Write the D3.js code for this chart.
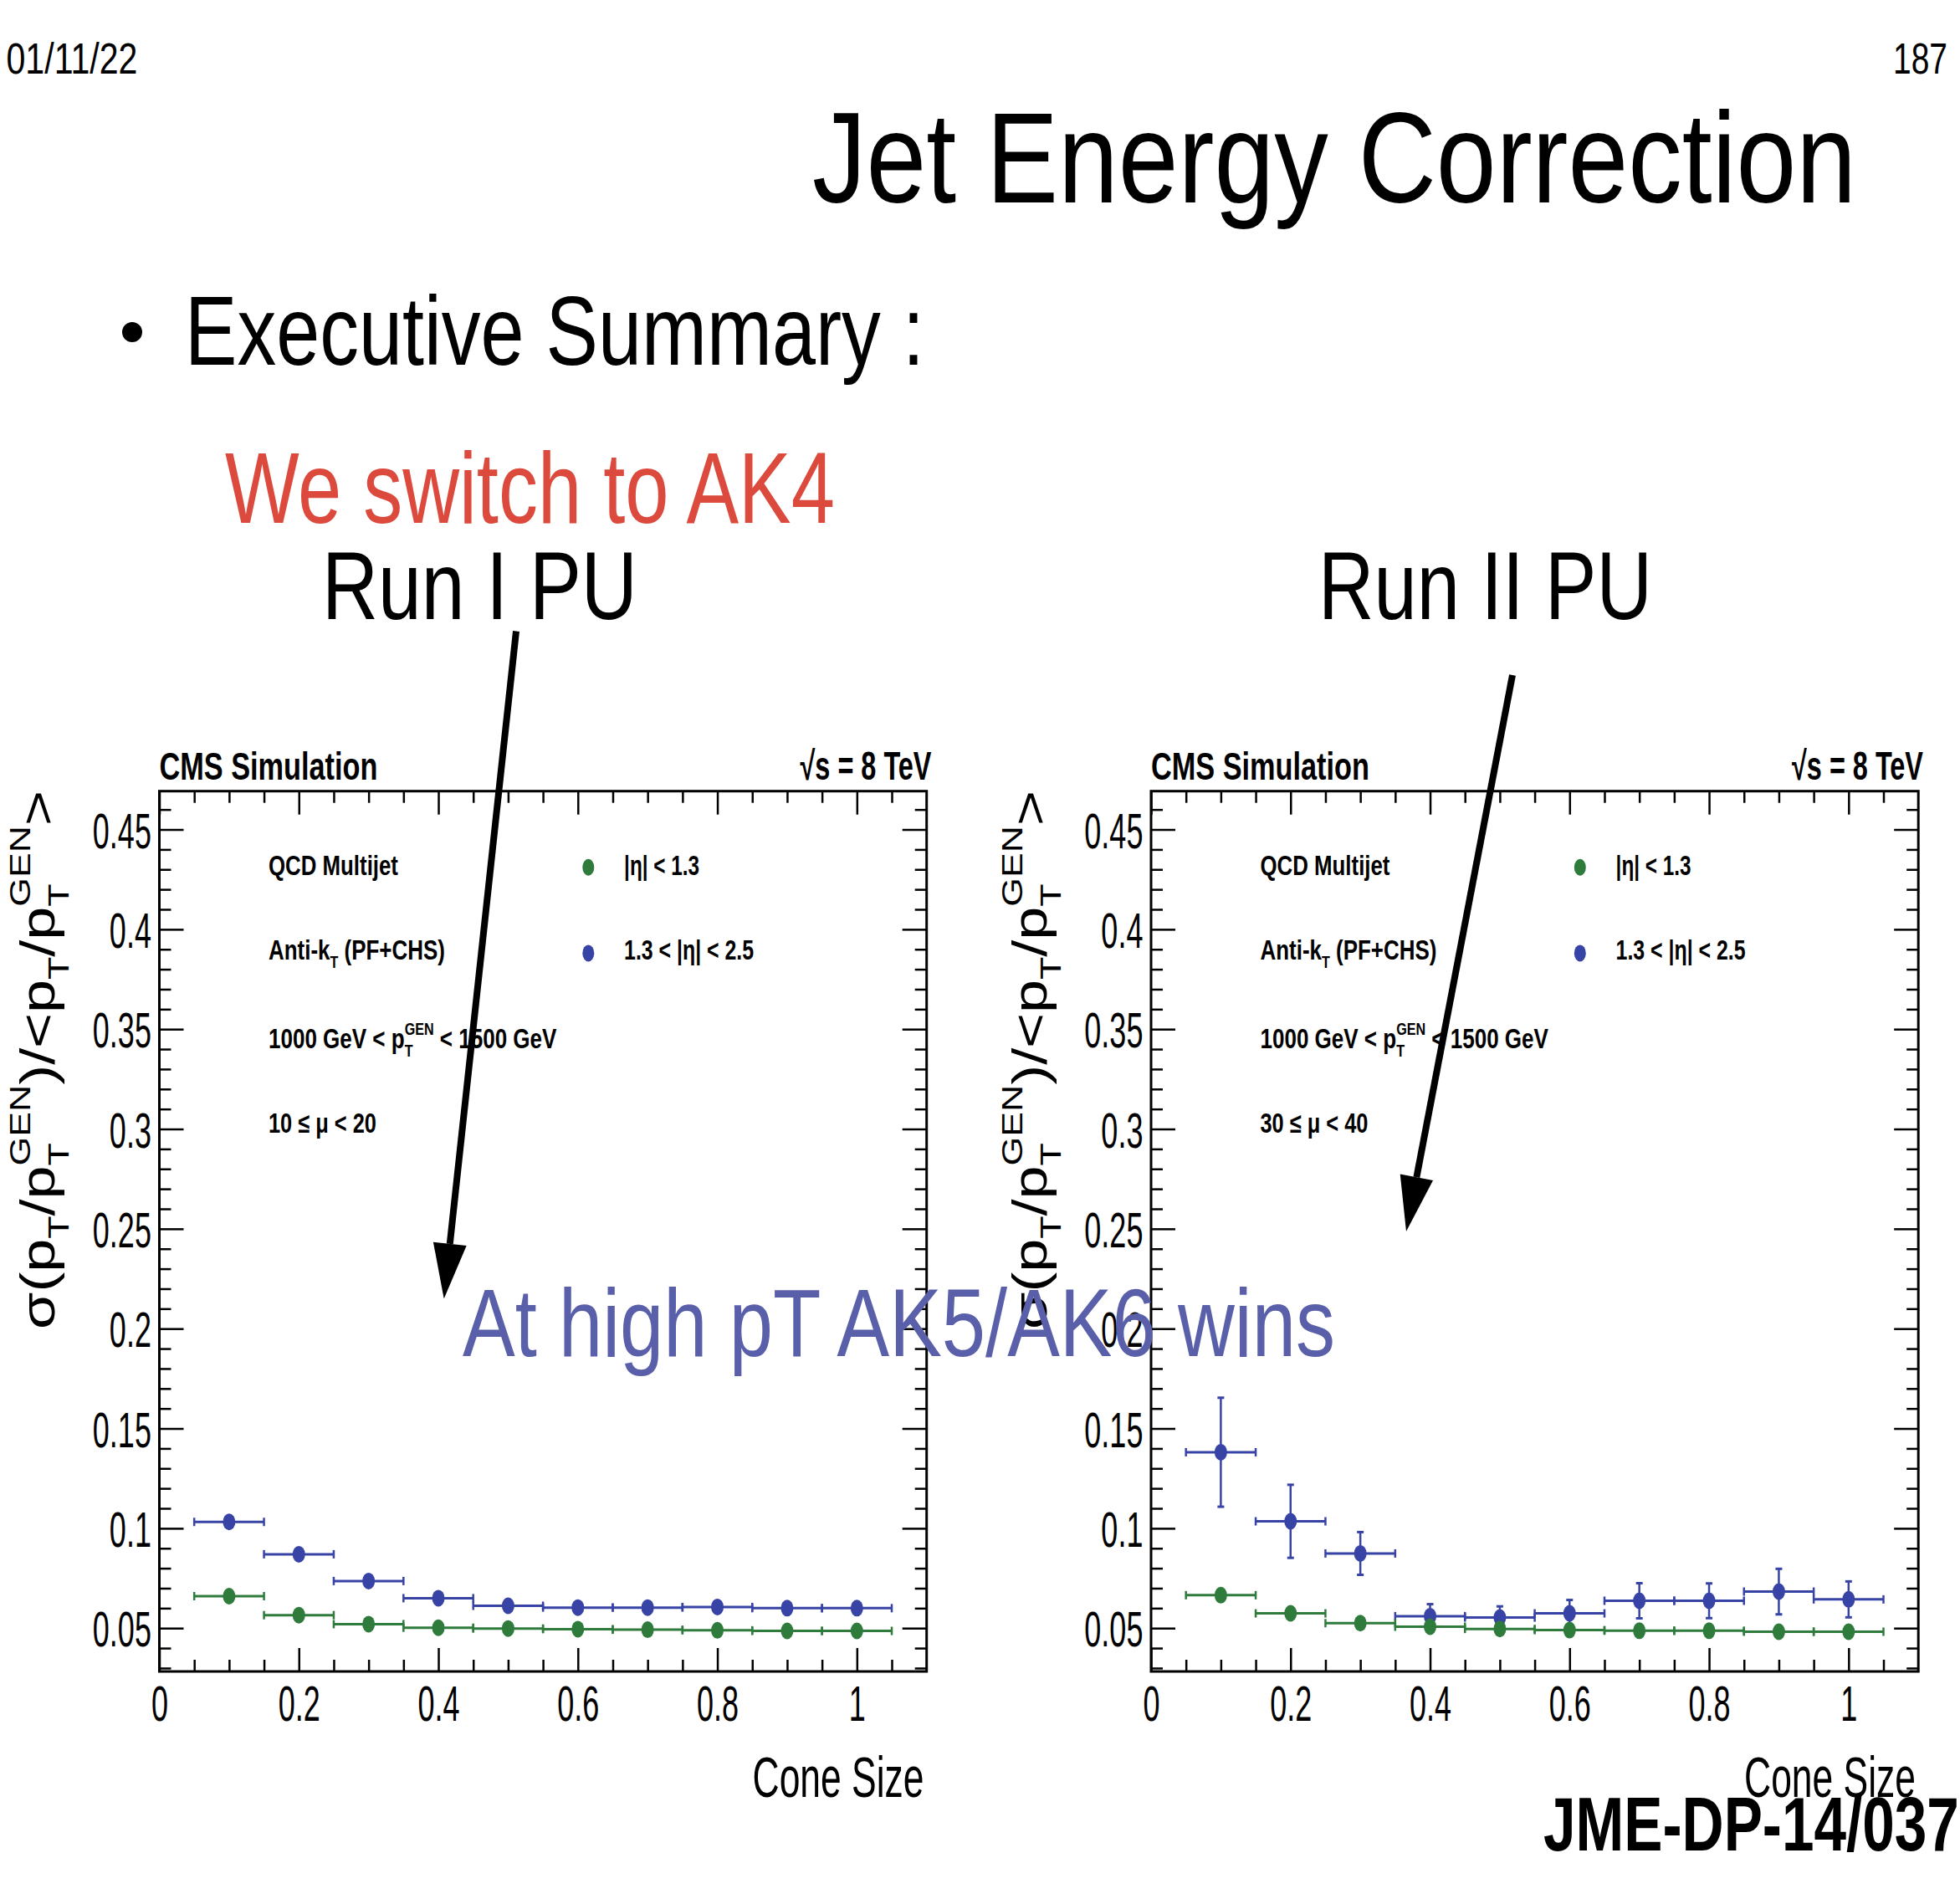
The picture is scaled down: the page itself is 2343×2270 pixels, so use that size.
<!DOCTYPE html>
<html>
<head>
<meta charset="utf-8">
<script src="https://cdn.jsdelivr.net/npm/d3@7"></script>
<style>
  body { margin: 0; background: #fff; }
  text { font-family: "Liberation Sans", Arial, Helvetica, sans-serif; }
</style>
</head>
<body>
<div id="slide"></div>
<script>
// ---- data ----
const coneSize = [0.1, 0.2, 0.3, 0.4, 0.5, 0.6, 0.7, 0.8, 0.9, 1.0]
const binHalfWidth = 0.05

// Run I PU (10 <= mu < 20)
const runI_central    = [0.0660, 0.0565, 0.0520, 0.0502, 0.0498, 0.0495, 0.0492, 0.0489, 0.0486, 0.0486]
const runI_centralErr = [0.0005, 0.0004, 0.0003, 0.0003, 0.0003, 0.0003, 0.0003, 0.0003, 0.0003, 0.0003]
const runI_forward    = [0.1032, 0.0870, 0.0736, 0.0650, 0.0612, 0.0603, 0.0603, 0.0606, 0.0600, 0.0600]
const runI_forwardErr = [0.0010, 0.0008, 0.0006, 0.0005, 0.0005, 0.0005, 0.0005, 0.0005, 0.0005, 0.0005]

// Run II PU (30 <= mu < 40)
const runII_central    = [0.0665, 0.0574, 0.0525, 0.0507, 0.0496, 0.0490, 0.0487, 0.0487, 0.0482, 0.0482]
const runII_centralErr = [0.0010, 0.0008, 0.0006, 0.0005, 0.0005, 0.0005, 0.0005, 0.0005, 0.0005, 0.0005]
const runII_forward    = [0.1381, 0.1035, 0.0874, 0.0560, 0.0553, 0.0574, 0.0637, 0.0637, 0.0683, 0.0644]
const runII_forwardErr = [0.0273, 0.0183, 0.0107, 0.0060, 0.0056, 0.0067, 0.0088, 0.0087, 0.0114, 0.0090]

const xTicks = [0, 0.2, 0.4, 0.6, 0.8, 1]
const xTickLabels = ['0', '0.2', '0.4', '0.6', '0.8', '1']
const yTicks = [0.05, 0.1, 0.15, 0.2, 0.25, 0.3, 0.35, 0.4, 0.45]
const yTickLabels = ['0.05', '0.1', '0.15', '0.2', '0.25', '0.3', '0.35', '0.4', '0.45']

const legendLabels = ['|η| < 1.3', '1.3 < |η| < 2.5']
const green = '#2e7b3c'
const blue = '#3843a6'

const W = 2343, H = 2270

let svg = d3.select('#slide').append('svg')
  .attr('width', W)
  .attr('height', H)
  .style('display', 'block')

svg.append('rect').attr('width', W).attr('height', H).attr('fill', '#fff')

// text with optional sub/superscripts, squeezed to a given width
// parts: [[string, kind]] kind '' | 'sub' | 'sup' (sup stacks over the previous sub)
function rich(parent, parts, o) {
  let size = o.size
  let t = parent.append('text')
    .attr('font-size', size)
    .attr('font-weight', o.bold ? 'bold' : null)
    .attr('fill', o.color || '#000')
    .attr('text-anchor', o.anchor || 'start')
  let shift = 0, lastSub = 0
  parts.forEach(p => {
    let s = p[0], kind = p[1] || ''
    let target = kind == 'sub' ? 0.3 * size : (kind == 'sup' ? -0.5 * size : 0)
    let ts = t.append('tspan')
      .attr('font-size', kind ? 0.62 * size : size)
      .attr('dy', target - shift)
      .text(s)
    if (kind == 'sup' && lastSub) ts.attr('dx', -lastSub)
    shift = target
    lastSub = kind == 'sub' ? ts.node().getComputedTextLength() : 0
  })
  let w = t.node().getBBox().width
  let sx = o.width ? o.width / w : (o.sx || 1)
  t.attr('transform', `translate(${o.x},${o.y}) rotate(${o.rotate || 0}) scale(${sx},1)`)
  return t
}
function plain(parent, s, o) { return rich(parent, [[s, '']], o) }

// ---- slide header ----
plain(svg, '01/11/22', {x: 7.5, y: 88, size: 52, width: 157})
plain(svg, '187', {x: 2328, y: 88, size: 52, width: 65, anchor: 'end'})
plain(svg, 'Jet Energy Correction', {x: 971, y: 242, size: 154, width: 1248})
svg.append('circle').attr('cx', 158).attr('cy', 397).attr('r', 12).attr('fill', '#000')
plain(svg, 'Executive Summary :', {x: 221, y: 436, size: 117, width: 884})
plain(svg, 'We switch to AK4', {x: 269, y: 624.5, size: 121, width: 729, color: '#dc4a3d'})
plain(svg, 'Run I PU', {x: 385, y: 739.5, size: 115, width: 377})
plain(svg, 'Run II PU', {x: 1576, y: 739.5, size: 115, width: 399})

// ---- the two ROOT panels ----
const panels = [
  {left: 190.5, central: runI_central, centralErr: runI_centralErr, forward: runI_forward, forwardErr: runI_forwardErr, mu: '10 ≤ μ < 20'},
  {left: 1376, central: runII_central, centralErr: runII_centralErr, forward: runII_forward, forwardErr: runII_forwardErr, mu: '30 ≤ μ < 40'}
]

const frameTop = 945.7, frameBottom = 1998, frameW = 917.2

function drawPanel(p) {
  let g = svg.append('g').attr('transform', `translate(${p.left},0)`)

  let x = d3.scaleLinear().domain([0, 1.1]).range([0, frameW])
  let y = d3.scaleLinear().domain([0.0283, 0.4692]).range([frameBottom, frameTop])

  let xMinor = d3.range(1, 22).filter(i => i % 4 != 0).map(i => i * 0.05)
  let yMinor = d3.range(3, 47).filter(i => i % 5 != 0).map(i => i / 100)

  let axes = g.append('g')
  axes.append('g').attr('class', 'xb')
    .attr('transform', `translate(0,${frameBottom})`)
    .call(d3.axisBottom(x).tickValues(xTicks).tickSize(-28).tickPadding(16)
      .tickFormat(d => xTickLabels[xTicks.indexOf(d)]))
  axes.append('g').attr('transform', `translate(0,${frameBottom})`)
    .call(d3.axisBottom(x).tickValues(xMinor).tickSize(-14).tickFormat(''))
  axes.append('g').attr('transform', `translate(0,${frameTop})`)
    .call(d3.axisTop(x).tickValues(xTicks).tickSize(-28).tickFormat(''))
  axes.append('g').attr('transform', `translate(0,${frameTop})`)
    .call(d3.axisTop(x).tickValues(xMinor).tickSize(-14).tickFormat(''))

  axes.append('g').attr('class', 'yl')
    .call(d3.axisLeft(y).tickValues(yTicks).tickSize(-29).tickPadding(16)
      .tickFormat(d => yTickLabels[yTicks.indexOf(d)]))
  axes.append('g')
    .call(d3.axisLeft(y).tickValues(yMinor).tickSize(-14).tickFormat(''))
  axes.append('g').attr('transform', `translate(${frameW},0)`)
    .call(d3.axisRight(y).tickValues(yTicks).tickSize(-29).tickFormat(''))
  axes.append('g').attr('transform', `translate(${frameW},0)`)
    .call(d3.axisRight(y).tickValues(yMinor).tickSize(-14).tickFormat(''))

  axes.selectAll('.domain').remove()
  axes.selectAll('.tick line').attr('stroke', '#000').attr('stroke-width', 2.5)
  axes.selectAll('g').attr('font-family', null).attr('font-size', 60)
  axes.selectAll('.tick text').attr('fill', '#000').attr('transform', 'scale(0.6,1)')
  axes.selectAll('.yl .tick text').attr('dy', '0.36em')

  g.append('rect')
    .attr('x', 0).attr('y', frameTop)
    .attr('width', frameW).attr('height', frameBottom - frameTop)
    .attr('fill', 'none').attr('stroke', '#000').attr('stroke-width', 3)

  // series: forward first, central on top
  let series = [
    {vals: p.forward, errs: p.forwardErr, color: blue},
    {vals: p.central, errs: p.centralErr, color: green}
  ]
  let rx = 7.5, ry = 10
  series.forEach(s => {
    let pts = coneSize.map((c, i) => ({c: c, v: s.vals[i], e: s.errs[i]}))
    let sg = g.append('g').attr('stroke', s.color).attr('fill', s.color)

    sg.selectAll('.hbar').data(pts).enter().append('line')
      .attr('x1', d => x(d.c - binHalfWidth)).attr('x2', d => x(d.c + binHalfWidth))
      .attr('y1', d => y(d.v)).attr('y2', d => y(d.v))
      .attr('stroke-width', 3)
    sg.selectAll('.hcapl').data(pts).enter().append('line')
      .attr('x1', d => x(d.c - binHalfWidth)).attr('x2', d => x(d.c - binHalfWidth))
      .attr('y1', d => y(d.v) - 5).attr('y2', d => y(d.v) + 5)
      .attr('stroke-width', 2.5)
    sg.selectAll('.hcapr').data(pts).enter().append('line')
      .attr('x1', d => x(d.c + binHalfWidth)).attr('x2', d => x(d.c + binHalfWidth))
      .attr('y1', d => y(d.v) - 5).attr('y2', d => y(d.v) + 5)
      .attr('stroke-width', 2.5)

    let big = pts.filter(d => y(d.v - d.e) - y(d.v) > ry)
    sg.selectAll('.vbar').data(big).enter().append('line')
      .attr('x1', d => x(d.c)).attr('x2', d => x(d.c))
      .attr('y1', d => y(d.v + d.e)).attr('y2', d => y(d.v - d.e))
      .attr('stroke-width', 2.5)
    sg.selectAll('.vcapt').data(big).enter().append('line')
      .attr('x1', d => x(d.c) - 4).attr('x2', d => x(d.c) + 4)
      .attr('y1', d => y(d.v + d.e)).attr('y2', d => y(d.v + d.e))
      .attr('stroke-width', 3)
    sg.selectAll('.vcapb').data(big).enter().append('line')
      .attr('x1', d => x(d.c) - 4).attr('x2', d => x(d.c) + 4)
      .attr('y1', d => y(d.v - d.e)).attr('y2', d => y(d.v - d.e))
      .attr('stroke-width', 3)

    sg.selectAll('.mk').data(pts).enter().append('ellipse')
      .attr('cx', d => x(d.c)).attr('cy', d => y(d.v))
      .attr('rx', rx).attr('ry', ry).attr('stroke', 'none')
  })

  // legend
  let legendRows = [{label: legendLabels[0], color: green, cy: 1036.8, base: 1046.4, w: 90},
                    {label: legendLabels[1], color: blue, cy: 1139.4, base: 1147, w: 155}]
  legendRows.forEach(r => {
    g.append('ellipse').attr('cx', 512.8).attr('cy', r.cy).attr('rx', 7).attr('ry', 10).attr('fill', r.color)
    plain(g, r.label, {x: 555.6, y: r.base, size: 33, bold: true, width: r.w})
  })

  // captions inside the frame
  plain(g, 'QCD Multijet', {x: 130.5, y: 1046.4, size: 33, bold: true, width: 155})
  rich(g, [['Anti-k', ''], ['T', 'sub'], [' (PF+CHS)', '']], {x: 130.5, y: 1147, size: 33, bold: true, width: 211})
  rich(g, [['1000 GeV < p', ''], ['T', 'sub'], ['GEN', 'sup'], [' < 1500 GeV', '']], {x: 130.5, y: 1253.4, size: 33, bold: true, width: 344.5})
  plain(g, p.mu, {x: 130.5, y: 1353.7, size: 33, bold: true, width: 129})

  // headers and axis titles
  plain(g, 'CMS Simulation', {x: 0, y: 931.6, size: 46, bold: true, width: 261})
  plain(g, '√s = 8 TeV', {x: 923, y: 931.6, size: 48, bold: true, width: 157, anchor: 'end'})
  plain(g, 'Cone Size', {x: 914, y: 2148, size: 69, width: 205, anchor: 'end'})
  rich(g, [['σ(p', ''], ['T', 'sub'], ['/p', ''], ['T', 'sub'], ['GEN', 'sup'], [')/<p', ''], ['T', 'sub'],
           ['/p', ''], ['T', 'sub'], ['GEN', 'sup'], ['>', '']],
       {x: -125.5, y: 1589, size: 58, width: 644, rotate: -90})
}

panels.forEach(drawPanel)

// ---- annotations on top ----
function arrow(x1, y1, x2, y2) {
  let dx = x2 - x1, dy = y2 - y1, len = Math.hypot(dx, dy)
  let ux = dx / len, uy = dy / len
  let headLen = 66, headHalf = 20
  let bx = x2 - ux * headLen, by = y2 - uy * headLen
  svg.append('line').attr('x1', x1).attr('y1', y1).attr('x2', bx).attr('y2', by)
    .attr('stroke', '#000').attr('stroke-width', 8)
  svg.append('polygon')
    .attr('points', [[x2, y2], [bx - uy * headHalf, by + ux * headHalf], [bx + uy * headHalf, by - ux * headHalf]].map(q => q.join(',')).join(' '))
    .attr('fill', '#000')
}
arrow(617, 754.5, 530.7, 1552.5)
arrow(1808, 807, 1681, 1472)

plain(svg, 'At high pT AK5/AK6 wins', {x: 553, y: 1621, size: 115, width: 1043, color: '#5a5faa'})
plain(svg, 'JME-DP-14/037', {x: 1845, y: 2211.7, size: 90, bold: true, width: 497})
</script>
</body>
</html>
